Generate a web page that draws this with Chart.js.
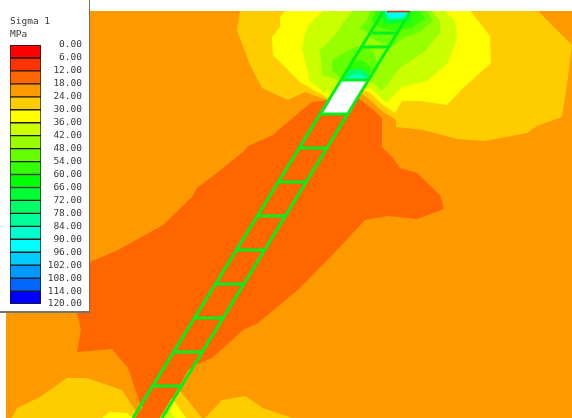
<!DOCTYPE html>
<html>
<head>
<meta charset="utf-8">
<style>
html,body{margin:0;padding:0;background:#fff;width:572px;height:418px;overflow:hidden}
#main{position:absolute;left:0;top:0;width:572px;height:418px}
#legendBox{position:absolute;left:0;top:0;width:89px;height:311px;background:#fff;border-right:1px solid #7d6a50;border-bottom:2px solid #77736c}
#legend{position:absolute;left:0;top:0}
</style>
<script src="https://cdn.jsdelivr.net/npm/chart.js@4/dist/chart.umd.min.js"></script>
</head>
<body>
<div id="main"><canvas id="map" width="572" height="418"></canvas></div>
<div id="legendBox"><canvas id="legend" width="89" height="312"></canvas></div>
<script>
const legendTitle = ['Sigma 1', 'MPa'];
const legendTicks = [0,6,12,18,24,30,36,42,48,54,60,66,72,78,84,90,96,102,108,114,120];
const bandColors = ['#ff0000','#ff3300','#ff6600','#ff9900','#ffcc00','#ffff00','#ccff00','#99ff00','#66ff00','#33ff00',
  '#00ff00','#00ff33','#00ff66','#00ff99','#00ffcc','#00ffff','#00ccff','#0099ff','#0066ff','#0000ff'];

const field = [[6,11],[572,11],[572,418],[6,418]];
const band24Top = [[240,11],[538,11],[572,45],[567,85],[562,117],[537,126],[527,133],[485,141],[457,139],[423,130],[396,127],[396,120],[382,111],[370,100],[360,92],[327,100],[305,92],[288,100],[262,88],[250,65],[237,30]];
const band24Left = [[6,418],[12,418],[17,408],[40,397],[67,378],[87,378],[122,390],[137,413],[137,418]];
const band24Mid = [[178,388],[190,403],[202,418],[160,418],[165,400]];
const band24Right = [[205,418],[222,400],[245,396],[263,408],[292,418]];
const band12 = [[312,102],[330,100],[357,97],[370,107],[382,118],[382,147],[393,158],[400,168],[417,173],[440,195],[444,209],[417,219],[388,216],[365,220],[337,250],[300,288],[258,323],[243,330],[230,342],[212,358],[195,365],[188,370],[162,418],[135,418],[143,407],[140,403],[128,368],[112,349],[77,352],[81,330],[77,313],[70,300],[90,262],[118,250],[163,225],[192,197],[197,188],[213,176],[243,152],[248,146],[273,135],[282,127],[302,110]];
const band30Top = [[285,11],[470,11],[480,23],[490,36],[491,63],[480,73],[463,88],[447,105],[420,101],[402,101],[395,113],[383,105],[370,93],[360,88],[328,98],[312,89],[300,82],[273,55],[272,37],[280,27],[280,17]];
const band30Bottom = [[172,398],[186,418],[160,418]];
const band30Left = [[102,418],[110,412],[127,413],[133,418]];
const band36Top = [[323,11],[445,11],[455,21],[457,38],[448,63],[427,81],[402,87],[387,103],[370,88],[325,93],[310,81],[302,49],[305,33],[310,23]];
const band36Bottom = [[168,407],[175,418],[160,418]];
const band42 = [[353,11],[432,11],[440,21],[440,33],[425,51],[400,68],[382,91],[370,80],[340,81],[322,75],[320,50],[335,35],[345,20]];
const band48Top = [[370,11],[427,11],[433,20],[420,32],[403,38],[392,47],[375,40],[368,33],[360,28],[367,20]];
const band48Low = [[332,60],[353,48],[363,46],[372,50],[378,63],[370,78],[343,80],[332,70]];
const band54Top = [[375,11],[420,11],[425,18],[412,28],[395,31],[380,28],[372,20]];
const band54Low = [[343,80],[352,62],[362,60],[372,68],[368,80]];
const band66Top = [[380,11],[412,11],[410,22],[385,24]];
const band72Low = [[343,80],[350,70],[362,68],[369,75],[367,80]];
const band78Top = [[384,11],[408,11],[405,19],[388,20]];
const band84Low = [[345,80],[352,75],[360,74],[367,78],[366,80]];
const band90Top = [[385,13],[407,13],[404,17],[390,18]];
const emptyCell = [[323,113],[342,80],[367,80],[350,113]];

const railLeft = [[133,418],[383,12]];
const railRight = [[162,418],[410,12]];
const rungs = [
  [[320.5,114],[349,114]],[[342,80],[368,80]],[[363,47],[389,47]],[[372,33],[398,33]],
  [[299,148],[328,148]],[[278,182],[307,182]],[[257,216],[286,216]],[[236,250],[265,250]],
  [[215,284],[244,284]],[[194,318],[223,318]],[[174,352],[203,352]],[[153,386],[182,386]]
];
const redCap = [[387,11.5],[410,11.5]];

const layers = [
  [field,'#ff9900'],[band24Top,'#ffcc00'],[band24Left,'#ffcc00'],[band24Mid,'#ffcc00'],[band24Right,'#ffcc00'],
  [band12,'#ff6600'],[band30Top,'#ffff00'],[band30Bottom,'#ffff00'],[band30Left,'#ffff00'],
  [band36Top,'#ccff00'],[band36Bottom,'#ccff00'],[band42,'#99ff00'],[band48Top,'#66ff00'],[band48Low,'#66ff00'],
  [band54Top,'#33ff00'],[band54Low,'#33ff00'],[band66Top,'#00ff33'],[band72Low,'#00ff66'],
  [band78Top,'#00ff99'],[band84Low,'#00ffcc'],[band90Top,'#00ffff'],[emptyCell,'#ffffff']
];
const strokes = [...rungs, railLeft, railRight];
const mapSets = [];
layers.forEach(([pts, color]) => mapSets.push({data: pts, showLine: true, fill: 'shape', backgroundColor: color,
  borderWidth: 0, borderColor: color, pointRadius: 0, tension: 0}));
strokes.forEach(pts => mapSets.push({data: pts, showLine: true, fill: false, borderColor: '#00f020',
  borderWidth: 3, pointRadius: 0, tension: 0}));
mapSets.push({data: redCap, showLine: true, fill: false, borderColor: '#c8340c', borderWidth: 1.5, pointRadius: 0});
mapSets.forEach((d, i) => d.order = -i);

Chart.defaults.animation = false;
new Chart(document.getElementById('map'), {
  type: 'scatter',
  data: {datasets: mapSets},
  options: {
    responsive: false, animation: false, layout: {padding: 0},
    plugins: {legend: {display: false}, tooltip: {enabled: false}, title: {display: false}},
    scales: {
      x: {type: 'linear', min: 0, max: 572, display: false},
      y: {type: 'linear', min: 0, max: 418, reverse: true, display: false}
    }
  }
});

new Chart(document.getElementById('legend'), {
  type: 'bar',
  data: {
    labels: ['Sigma 1'],
    datasets: bandColors.map((c, i) => ({
      data: [[legendTicks[i], legendTicks[i + 1]]],
      backgroundColor: c, borderColor: '#1a1a1a', borderWidth: 1, borderSkipped: false
    }))
  },
  options: {
    responsive: false, animation: false,
    layout: {padding: {left: 10, right: 7, top: 15, bottom: 8}},
    datasets: {bar: {grouped: false, barPercentage: 1, categoryPercentage: 1}},
    plugins: {
      legend: {display: false}, tooltip: {enabled: false},
      title: {display: true, text: legendTitle, align: 'start', color: '#3a3a3a',
        font: {family: '"DejaVu Sans Mono"', size: 9.5, weight: 'normal', lineHeight: 1.37},
        padding: {top: 0, bottom: 4}}
    },
    scales: {
      x: {display: false},
      y: {
        type: 'linear', min: 0, max: 120, reverse: true, position: 'right',
        grid: {display: false}, border: {display: false},
        afterFit: s => { s.width = 41; },
        ticks: {stepSize: 6, autoSkip: false, padding: 0, crossAlign: 'far', color: '#3a3a3a',
          font: {family: '"DejaVu Sans Mono"', size: 9.5},
          callback: v => Number(v).toFixed(2)}
      }
    }
  }
});
</script>
</body>
</html>
